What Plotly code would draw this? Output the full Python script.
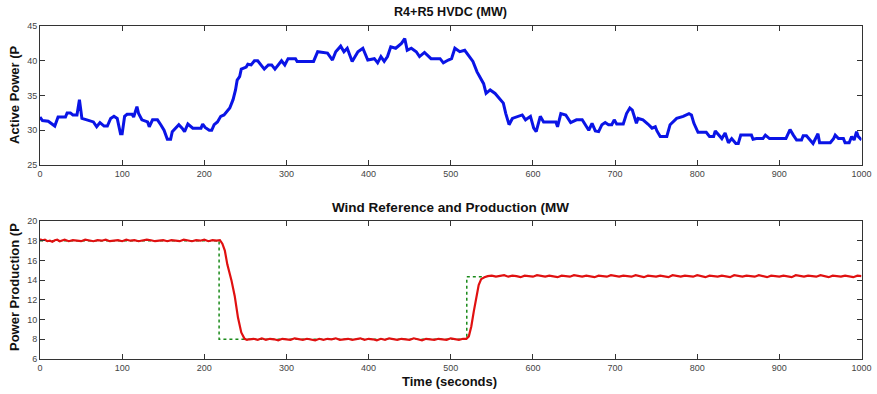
import plotly.graph_objects as go

# Top panel: R4+R5 HVDC active power
hvdc_t = [0, 3, 10, 18, 22, 31, 33, 37, 40, 45, 48, 51, 57, 65, 69, 73, 78, 82, 86, 90, 94, 98, 100,
          103, 106, 112, 114, 118, 120, 124, 131, 133, 137, 143, 147, 151, 155, 159, 161, 165, 169,
          173, 176, 180, 186, 192, 196, 198, 201, 206, 209, 212, 216, 220, 224, 231, 235, 238, 240,
          243, 245, 251, 253, 257, 261, 265, 269, 273, 278, 282, 286, 290, 294, 298, 302, 311, 313,
          321, 333, 338, 350, 356, 360, 366, 370, 374, 380, 387, 393, 399, 407, 411, 415, 419, 423,
          427, 433, 440, 444, 447, 452, 458, 462, 468, 476, 487, 491, 497, 501, 505, 511, 517, 521,
          527, 532, 536, 540, 543, 548, 554, 560, 564, 567, 571, 575, 581, 587, 591, 597, 601, 604,
          609, 613, 628, 630, 634, 640, 646, 653, 660, 664, 668, 672, 676, 680, 684, 688, 692, 696,
          699, 702, 710, 714, 718, 721, 724, 726, 728, 734, 740, 745, 749, 751, 755, 763, 767, 775,
          783, 787, 790, 793, 796, 801, 811, 815, 820, 822, 826, 830, 834, 838, 842, 847, 850, 853,
          866, 868, 872, 880, 883, 888, 908, 913, 917, 921, 927, 929, 933, 937, 941, 947, 949, 962,
          966, 968, 972, 978, 980, 985, 988, 991, 994, 996, 1000]
hvdc_p = [31.9, 31.4, 31.3, 30.6, 31.9, 31.9, 32.5, 32.5, 32.2, 32.2, 34.4, 31.7, 31.5, 31.2, 30.5,
          31.1, 30.6, 30.6, 31.7, 32.0, 31.7, 29.5, 29.5, 32.0, 32.3, 32.3, 31.9, 33.4, 32.4, 31.5,
          31.2, 30.5, 31.5, 31.5, 30.8, 30.0, 28.7, 28.7, 29.8, 30.3, 30.8, 30.3, 29.8, 30.9, 30.3,
          30.3, 30.3, 30.9, 30.4, 30.0, 30.0, 30.8, 31.2, 32.0, 32.2, 33.2, 34.4, 35.8, 37.2, 37.7,
          38.8, 39.1, 39.5, 39.4, 40.0, 40.0, 39.4, 38.8, 39.4, 39.4, 38.8, 39.4, 40.0, 39.4, 40.3,
          40.3, 39.9, 39.9, 39.9, 41.3, 41.1, 40.1, 41.3, 42.1, 41.3, 41.8, 39.9, 41.3, 41.8, 40.1,
          40.3, 39.7, 40.6, 39.9, 40.6, 42.0, 41.8, 42.5, 43.2, 41.5, 41.8, 41.3, 40.6, 41.2, 40.3,
          40.3, 39.7, 40.1, 40.3, 41.8, 41.3, 41.5, 40.8, 39.9, 38.4, 37.5, 36.7, 35.3, 35.8, 35.3,
          34.4, 33.9, 32.4, 30.8, 31.7, 32.0, 32.2, 31.5, 32.0, 30.3, 29.8, 32.0, 31.2, 31.2, 30.5,
          32.4, 32.2, 31.1, 31.5, 31.5, 30.8, 30.0, 31.0, 29.9, 29.8, 30.8, 31.1, 30.8, 30.8, 31.5,
          30.9, 30.9, 32.4, 33.2, 32.9, 31.7, 31.0, 31.7, 31.5, 30.9, 30.3, 30.5, 29.9, 29.1, 29.1,
          30.8, 31.7, 32.0, 32.2, 32.4, 32.2, 31.0, 29.7, 29.7, 29.1, 29.1, 29.9, 29.3, 28.8, 29.6,
          28.2, 28.8, 28.1, 28.1, 29.3, 29.3, 28.7, 28.8, 28.8, 29.3, 28.8, 28.8, 30.1, 29.3, 28.6,
          28.6, 29.2, 29.2, 28.6, 28.1, 29.5, 28.2, 28.2, 28.8, 29.3, 28.8, 28.8, 28.2, 28.2, 29.1,
          28.6, 29.8, 29.1, 28.6]

# Bottom panel: wind reference (step) and production
ref_t = [0, 218, 218, 249, 519.5, 519.5, 541]
ref_p = [18.0, 18.0, 8.0, 8.0, 8.0, 14.35, 14.35]

# Production, read at roughly 5 s spacing (with small visible ripple)
prod_t = [0, 3, 6, 9, 12, 15, 18, 21, 24, 27, 30, 35, 40, 45, 50, 55, 60, 65, 70, 75, 80, 85, 90,
          95, 100, 105, 110, 115, 120, 125, 130, 135, 140, 145, 150, 155, 160, 165, 170, 175, 180,
          185, 190, 195, 200, 205, 210, 215, 219, 222, 225, 228, 233, 237, 241, 245, 249, 252, 255,
          260, 265, 270, 275, 280, 285, 290, 295, 300, 305, 310, 315, 320, 325, 330, 335, 340, 345,
          350, 355, 360, 365, 370, 375, 380, 385, 390, 395, 400, 405, 410, 415, 420, 425, 430, 435,
          440, 445, 450, 455, 460, 465, 470, 475, 480, 485, 490, 495, 500, 505, 510, 515, 519, 522,
          525, 528, 531, 534, 537, 541, 545, 550, 555, 560, 565, 570, 575, 580, 585, 590, 595, 600,
          605, 610, 615, 620, 625, 630, 635, 640, 645, 650, 655, 660, 665, 670, 675, 680, 685, 690,
          695, 700, 705, 710, 715, 720, 725, 730, 735, 740, 745, 750, 755, 760, 765, 770, 775, 780,
          785, 790, 795, 800, 805, 810, 815, 820, 825, 830, 835, 840, 845, 850, 855, 860, 865, 870,
          875, 880, 885, 890, 895, 900, 905, 910, 915, 920, 925, 930, 935, 940, 945, 950, 955, 960,
          965, 970, 975, 980, 985, 990, 995, 1000]
prod_p = [18.15, 18.05, 18.1, 17.95, 18.0, 17.9, 18.05, 18.1, 17.95, 18.05, 18.1, 17.95, 18.05,
          18.0, 17.95, 18.1, 18.0, 17.95, 18.05, 18.0, 18.1, 17.95, 18.0, 18.05, 17.95, 18.1, 18.0,
          18.05, 17.95, 18.0, 18.1, 18.05, 17.95, 18.0, 18.05, 17.95, 18.05, 18.0, 17.95, 18.1,
          18.0, 17.95, 18.05, 18.0, 18.1, 17.95, 18.05, 18.0, 18.05, 17.7, 17.0, 15.6, 14.0, 12.4,
          10.2, 8.7, 8.05, 7.95, 8.0, 8.05, 7.95, 8.1, 7.95, 8.05, 8.0, 7.9, 8.05, 8.0, 7.95, 8.1,
          8.0, 7.95, 8.05, 8.0, 7.9, 8.05, 7.95, 8.05, 8.0, 8.1, 7.95, 8.0, 8.05, 7.95, 8.0, 8.1,
          7.95, 8.05, 8.0, 7.9, 8.05, 7.95, 8.1, 8.0, 7.95, 8.05, 8.0, 7.95, 8.1, 8.0, 7.9, 8.05,
          8.0, 7.95, 8.05, 8.0, 7.95, 8.1, 8.0, 7.95, 8.05, 8.05, 8.3, 9.3, 10.8, 12.3, 13.5, 14.1,
          14.3, 14.4, 14.45, 14.35, 14.4, 14.5, 14.35, 14.45, 14.4, 14.3, 14.45, 14.4, 14.35, 14.5,
          14.4, 14.35, 14.45, 14.4, 14.3, 14.45, 14.4, 14.35, 14.5, 14.4, 14.35, 14.45, 14.4, 14.3,
          14.45, 14.4, 14.35, 14.5, 14.4, 14.35, 14.45, 14.4, 14.35, 14.5, 14.4, 14.3, 14.45, 14.4,
          14.35, 14.45, 14.4, 14.3, 14.5, 14.4, 14.35, 14.45, 14.4, 14.35, 14.5, 14.4, 14.3, 14.45,
          14.4, 14.35, 14.45, 14.4, 14.3, 14.5, 14.4, 14.35, 14.45, 14.4, 14.35, 14.5, 14.4, 14.3,
          14.45, 14.4, 14.35, 14.45, 14.4, 14.3, 14.5, 14.4, 14.35, 14.45, 14.4, 14.35, 14.5, 14.4,
          14.3, 14.45, 14.4, 14.35, 14.45, 14.4, 14.3, 14.45, 14.4]

fig = go.Figure()
fig.add_trace(go.Scatter(x=hvdc_t, y=hvdc_p, mode="lines",
                         line=dict(color="#0a14e6", width=3), xaxis="x", yaxis="y",
                         showlegend=False))
fig.add_trace(go.Scatter(x=ref_t, y=ref_p, mode="lines",
                         line=dict(color="#1a8a1a", width=1.5, dash="dot"), xaxis="x2", yaxis="y2",
                         showlegend=False))
fig.add_trace(go.Scatter(x=prod_t, y=prod_p, mode="lines",
                         line=dict(color="#e01010", width=2.2), xaxis="x2", yaxis="y2",
                         showlegend=False))

axis_common = dict(showline=True, mirror="ticks", linecolor="#333333", linewidth=1,
                   ticks="inside", ticklen=5, tickcolor="#333333", showgrid=False, zeroline=False,
                   automargin=False,
                   tickfont=dict(family="Liberation Sans, Arial", size=9, color="#444444"))

W, H = 877, 394
L, R, T, B = 40, 10, 26, 35
pw, ph = W - L - R, H - T - B


def px(x):
    return (x - L) / pw


def py(y):
    return 1 - (y - T) / ph


fig.update_layout(
    width=W, height=H,
    margin=dict(l=L, r=R, t=T, b=B),
    plot_bgcolor="white", paper_bgcolor="white",
    xaxis=dict(domain=[0, px(861.5)], range=[0, 1000], dtick=100, anchor="y", **axis_common),
    yaxis=dict(domain=[py(165), 1], range=[25, 45], dtick=5, anchor="x", **axis_common),
    xaxis2=dict(domain=[0, px(861.5)], range=[0, 1000], dtick=100, anchor="y2", **axis_common),
    yaxis2=dict(domain=[0, py(221)], range=[6, 20], dtick=2, anchor="x2", **axis_common),
)

font_lab = dict(family="Liberation Sans, Arial", size=13, color="#111111")
fig.add_annotation(text="<b>R4+R5 HVDC (MW)</b>", x=px(450), y=py(12), xref="paper", yref="paper",
                   showarrow=False, font=dict(family="Liberation Sans, Arial", size=12.6,
                                              color="#111111"),
                   xanchor="center", yanchor="middle")
fig.add_annotation(text="<b>Wind Reference and Production (MW</b>", x=px(450), y=py(207),
                   xref="paper", yref="paper", showarrow=False,
                   font=dict(family="Liberation Sans, Arial", size=13.5, color="#111111"),
                   xanchor="center", yanchor="middle")
fig.add_annotation(text="<b>Time (seconds)</b>", x=px(449), y=py(381), xref="paper", yref="paper",
                   showarrow=False, font=font_lab, xanchor="center", yanchor="middle")
fig.add_annotation(text="<b>Active Power (P</b>", x=px(14), y=py(95), xref="paper", yref="paper",
                   showarrow=False, font=font_lab, textangle=-90, xanchor="center",
                   yanchor="middle")
fig.add_annotation(text="<b>Power Production (P</b>", x=px(14), y=py(287), xref="paper",
                   yref="paper", showarrow=False, font=font_lab, textangle=-90,
                   xanchor="center", yanchor="middle")

fig.write_html("out.html")
